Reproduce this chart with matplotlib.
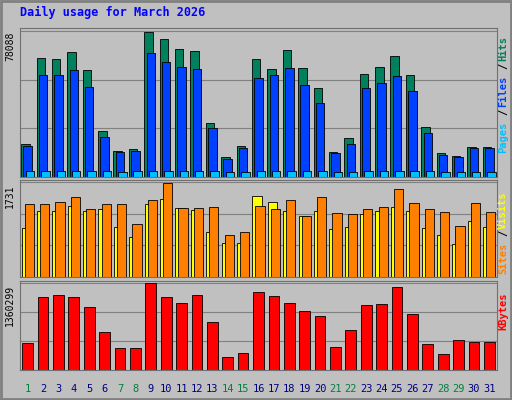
import matplotlib
matplotlib.use("Agg")
import matplotlib.pyplot as plt
import numpy as np

days = list(range(1, 32))
weekend = {1, 7, 8, 14, 15, 21, 22, 28, 29}

hits_max = 78088
visits_max = 1731
kb_max = 1360299

# pixel tops, converted below to values
hits_px = [143, 56, 57, 50, 68, 130, 150, 148, 29, 36, 46, 48, 122, 157, 145, 57,
           67, 47, 66, 86, 152, 137, 72, 65, 54, 73, 126, 153, 156, 146, 146]
files_px = [145, 73, 73, 68, 85, 136, 152, 150, 51, 60, 65, 67, 127, 159, 147, 76,
            73, 66, 83, 102, 153, 143, 86, 81, 74, 89, 132, 155, 157, 147, 147]
pages_px = [171, 171, 171, 171, 171, 171, 172, 171, 171, 171, 171, 171, 171, 172, 172, 171,
            171, 171, 171, 171, 172, 172, 171, 171, 171, 171, 171, 172, 172, 172, 172]
visits_px = [205, 205, 203, 198, 210, 205, 205, 225, 201, 184, 209, 209, 208, 235, 233, 207,
             210, 201, 217, 198, 214, 215, 210, 208, 190, 204, 210, 213, 227, 204, 213]
sites_px = [229, 212, 212, 207, 212, 210, 228, 237, 205, 200, 209, 211, 233, 243, 243, 197,
            203, 212, 217, 212, 230, 228, 215, 212, 208, 212, 229, 235, 244, 222, 228]
kb_px = [343, 298, 296, 298, 308, 333, 348, 348, 284, 298, 304, 296, 323, 357, 353, 293,
         297, 304, 312, 317, 347, 331, 306, 305, 288, 315, 344, 354, 340, 342, 342]

hits = [(177 - p) / 149 * hits_max for p in hits_px]
files = [(177 - p) / 149 * hits_max for p in files_px]
pages = [(177 - p) / 149 * hits_max for p in pages_px]
visits = [(277 - p) / 94 * visits_max for p in visits_px]
sites = [(277 - p) / 94 * visits_max for p in sites_px]
kbytes = [(370 - p) / 86 * kb_max for p in kb_px]

bg = "#C0C0C0"
fig = plt.figure(figsize=(5.12, 4), dpi=100, facecolor=bg)
fig.patches.append(plt.Rectangle((0.002, 0.002), 0.996, 0.996, transform=fig.transFigure,
                                 fill=False, edgecolor="#808080", linewidth=2))
fig.text(20 / 512, 1 - 12 / 400, "Daily usage for March 2026", color="#0000FF",
         fontsize=8.5, fontweight="bold", family="DejaVu Sans Mono", va="center")

x = np.array(days)
left, width = 20 / 512, 477 / 512


def panel(bottom_px, top_px, ymax, label):
    ax = fig.add_axes([left, 1 - bottom_px / 400, width, (bottom_px - top_px) / 400])
    ax.set_facecolor(bg)
    ax.set_xlim(0.5, 31.5)
    ax.set_ylim(0, ymax * 1.02)
    for f in (1 / 3, 2 / 3, 1.0):
        ax.axhline(ymax * f, color="#808080", linewidth=0.8, zorder=0)
    ax.set_yticks([])
    ax.set_xticks([])
    for s in ax.spines.values():
        s.set_color("#707070")
    fig.text(left - 10 / 512, 1 - (top_px + 4) / 400, label, rotation=90, fontsize=7,
             family="DejaVu Sans Mono", va="top", ha="center")
    return ax


def right_label(top_px, parts):
    # text reads bottom-to-top; first part ends at the top of the panel
    char_px = 7.6
    total = sum(len(t) for t, _ in parts) * char_px
    y_px = top_px + 3 + total
    for t, c in reversed(parts):
        fig.text(503 / 512, 1 - y_px / 400, t, rotation=90, color=c, fontsize=7.5,
                 family="DejaVu Sans Mono", fontweight="bold", va="bottom", ha="center")
        y_px -= len(t) * char_px


ax1 = panel(177, 28, hits_max, "78088")
ax1.bar(x - 0.15, hits, 0.55, color="#00805C", edgecolor="black", linewidth=0.6)
ax1.bar(x, files, 0.55, color="#0040FF", edgecolor="black", linewidth=0.6)
ax1.bar(x + 0.15, pages, 0.55, color="#00C0FF", edgecolor="black", linewidth=0.6)
right_label(28, [("Hits", "#00805C"), ("/", "black"), ("Files", "#0040FF"),
                 ("/", "black"), ("Pages", "#00C0FF")])

ax2 = panel(277, 180, visits_max, "1731")
ax2.bar(x - 0.1, sites, 0.6, color="#FFFF00", edgecolor="black", linewidth=0.6)
ax2.bar(x + 0.1, visits, 0.6, color="#FF8000", edgecolor="black", linewidth=0.6)
right_label(180, [("Visits", "#FFFF00"), ("/", "black"), ("Sites", "#FF8000")])

ax3 = panel(370, 281, kb_max, "1360299")
ax3.bar(x, kbytes, 0.7, color="#FF0000", edgecolor="black", linewidth=0.6)
right_label(281, [("KBytes", "#FF0000")])

for d in days:
    fig.text((left * 512 + (d - 0.5) * 477 / 31) / 512, 1 - 389 / 400, str(d),
             color="#008040" if d in weekend else "#000080", fontsize=7.5,
             family="DejaVu Sans Mono", ha="center", va="center")

fig.savefig("out.png", dpi=100, facecolor=bg)
